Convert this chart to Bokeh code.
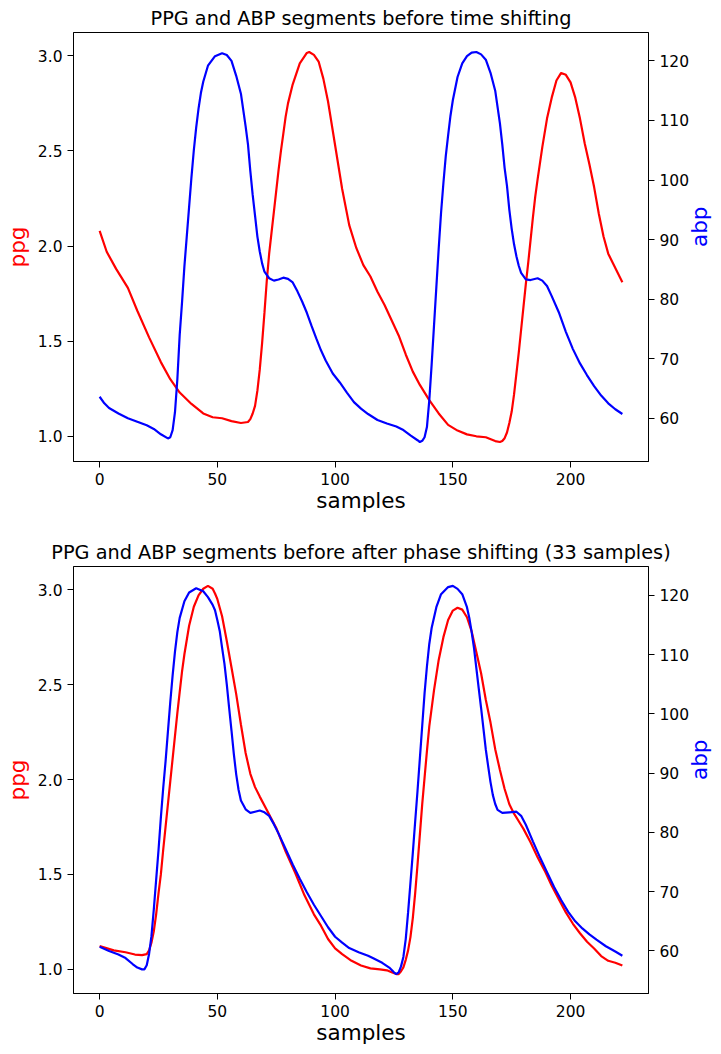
import math
from bokeh.plotting import figure
from bokeh.models import Range1d, LinearAxis, SingleIntervalTicker, NumeralTickFormatter
from bokeh.layouts import column
from bokeh.embed import file_html
from bokeh.resources import INLINE

# ---------------- data ----------------
titles = ["PPG and ABP segments before time shifting",
          "PPG and ABP segments before after phase shifting (33 samples)"]

top_ppg_s = [0, 3, 7, 12, 16, 21, 26, 30, 34, 39, 44, 48, 52, 56, 60, 63, 64, 65, 66, 67, 68, 69, 70,
             71, 72, 73, 74, 75, 76, 77, 78, 79, 80, 82, 85, 88, 89, 91, 93, 95, 97, 100, 103, 106,
             109, 112, 115, 118, 121, 124, 127, 130, 133, 136, 140, 144, 148, 152, 156, 160, 164,
             168, 170, 171, 172, 173, 174, 175, 176, 177, 178, 179, 180, 181, 182, 183, 184, 185,
             186, 188, 190, 192, 194, 196, 198, 200, 202, 204, 206, 208, 210, 212, 214, 216, 218,
             220, 222]
top_ppg = [2.08, 1.97, 1.88, 1.78, 1.66, 1.52, 1.39, 1.30, 1.23, 1.17, 1.12, 1.10, 1.095, 1.08, 1.07,
           1.075, 1.09, 1.12, 1.16, 1.24, 1.35, 1.49, 1.65, 1.82, 1.96, 2.07, 2.18, 2.29, 2.40, 2.50,
           2.59, 2.68, 2.75, 2.85, 2.96, 3.015, 3.02, 3.005, 2.97, 2.88, 2.76, 2.53, 2.30, 2.11,
           1.99, 1.90, 1.84, 1.76, 1.69, 1.61, 1.53, 1.43, 1.34, 1.27, 1.19, 1.12, 1.06, 1.03, 1.01,
           1.00, 0.995, 0.975, 0.97, 0.975, 0.99, 1.02, 1.07, 1.13, 1.22, 1.33, 1.44, 1.56, 1.68,
           1.80, 1.91, 2.03, 2.15, 2.26, 2.35, 2.52, 2.67, 2.78, 2.87, 2.91, 2.90, 2.86, 2.78, 2.67,
           2.54, 2.43, 2.31, 2.17, 2.05, 1.96, 1.91, 1.86, 1.81]

top_abp_s = [0, 2, 4, 8, 12, 16, 20, 23, 26, 29, 30, 31, 32, 33, 34, 35, 36, 37, 38, 39, 40, 41, 42,
             43, 44, 46, 49, 52, 54, 56, 58, 60, 62, 63, 64, 65, 66, 67, 68, 69, 70, 72, 74, 76, 78,
             80, 82, 84, 86, 88, 90, 92, 94, 96, 99, 102, 105, 108, 111, 114, 118, 122, 126, 129,
             132, 135, 136, 137, 138, 139, 140, 141, 142, 143, 144, 145, 146, 147, 148, 149, 150,
             152, 154, 156, 158, 160, 162, 164, 166, 168, 170, 171, 172, 173, 174, 175, 176, 177,
             178, 179, 181, 183, 186, 188, 190, 192, 195, 198, 201, 204, 207, 210, 213, 216, 219, 222]
top_abp = [63.6, 62.5, 61.7, 60.8, 60.0, 59.4, 58.8, 58.2, 57.3, 56.6, 56.8, 58.0, 61.0, 66.5, 74.0,
           79.5, 85.5, 90.5, 95.5, 100.5, 105.0, 108.8, 112.0, 114.6, 116.5, 119.2, 120.8, 121.3,
           121.0, 120.0, 117.5, 114.5, 109.0, 106.0, 101.5, 97.5, 94.0, 90.5, 88.0, 86.0, 84.6, 83.5,
           83.1, 83.3, 83.6, 83.4, 82.8, 81.3, 79.6, 77.7, 75.5, 73.4, 71.4, 69.7, 67.5, 66.0, 64.3,
           62.7, 61.6, 60.7, 59.7, 59.1, 58.6, 58.0, 57.1, 56.3, 56.0, 56.2, 56.8, 58.5, 63.0, 69.0,
           75.5, 82.0, 88.5, 94.5, 99.5, 104.0, 107.5, 110.8, 113.4, 117.3, 119.6, 120.8, 121.4,
           121.5, 121.1, 120.2, 118.0, 115.0, 109.5, 106.0, 102.0, 99.0, 95.0, 91.8, 89.2, 87.2,
           85.6, 84.4, 83.3, 83.2, 83.5, 83.1, 82.2, 80.5, 77.8, 74.5, 71.6, 69.2, 67.2, 65.4, 63.8,
           62.5, 61.5, 60.7]

bot_ppg_s = [0, 6, 11, 15, 18, 20, 21, 22, 23, 24, 25, 26, 27, 28, 29, 30, 31, 32, 33, 34, 35, 36,
             38, 40, 42, 44, 46, 48, 49, 50, 52, 54, 56, 58, 60, 62, 64, 66, 68, 71, 75, 79, 83, 87,
             91, 94, 97, 100, 103, 107, 111, 115, 119, 122, 124, 126, 127, 128, 129, 130, 131, 132,
             133, 134, 135, 136, 137, 138, 139, 140, 142, 144, 146, 148, 150, 152, 154, 156, 158,
             160, 162, 164, 166, 168, 170, 172, 174, 176, 178, 180, 183, 186, 189, 192, 195, 198,
             201, 204, 207, 210, 213, 216, 219, 222]
bot_ppg = [1.123, 1.10, 1.09, 1.078, 1.075, 1.08, 1.10, 1.14, 1.20, 1.29, 1.40, 1.50, 1.63, 1.75,
           1.87, 1.99, 2.11, 2.23, 2.35, 2.46, 2.57, 2.66, 2.81, 2.91, 2.97, 3.005, 3.02, 3.005, 2.98,
           2.95, 2.86, 2.73, 2.59, 2.45, 2.29, 2.14, 2.03, 1.96, 1.91, 1.84, 1.745, 1.62, 1.51, 1.39,
           1.29, 1.23, 1.16, 1.11, 1.08, 1.045, 1.02, 1.005, 1.00, 0.995, 0.985, 0.975, 0.975, 0.99,
           1.01, 1.05, 1.10, 1.17, 1.27, 1.40, 1.55, 1.71, 1.87, 2.01, 2.15, 2.28, 2.47, 2.63, 2.75,
           2.84, 2.89, 2.905, 2.895, 2.855, 2.78, 2.67, 2.56, 2.42, 2.30, 2.16, 2.05, 1.95, 1.87,
           1.82, 1.78, 1.74, 1.67, 1.59, 1.52, 1.44, 1.37, 1.30, 1.24, 1.19, 1.145, 1.11, 1.07,
           1.045, 1.035, 1.02]

bot_abp_s = [0, 4, 8, 11, 14, 16, 18, 19, 20, 21, 22, 23, 24, 25, 26, 27, 28, 29, 30, 31, 32, 33,
             34, 36, 38, 41, 44, 46, 48, 49, 50, 51, 52, 53, 54, 55, 56, 57, 58, 59, 60, 62, 64, 66,
             68, 70, 72, 74, 76, 79, 82, 85, 88, 91, 94, 97, 100, 103, 106, 110, 114, 116, 120, 123,
             125, 126, 127, 128, 129, 130, 131, 132, 133, 134, 135, 136, 137, 138, 139, 140, 141,
             143, 145, 148, 150, 152, 154, 156, 157, 158, 159, 160, 161, 162, 163, 164, 165, 166,
             167, 168, 169, 171, 174, 177, 179, 181, 184, 187, 190, 193, 196, 199, 202, 205, 208,
             211, 215, 219, 222]
bot_abp = [60.7, 60.0, 59.4, 58.8, 57.8, 57.2, 56.9, 56.9, 57.6, 59.5, 62.5, 67.0, 72.0, 77.0, 82.5,
           87.5, 92.0, 97.0, 102.0, 106.5, 110.5, 113.8, 116.2, 119.0, 120.5, 121.2, 120.7, 119.7,
           118.4, 117.5, 115.8, 114.0, 111.2, 108.5, 105.0, 101.0, 97.2, 93.2, 89.8, 87.2, 85.4,
           83.9, 83.3, 83.5, 83.7, 83.4, 82.8, 81.4, 79.8, 77.2, 74.6, 72.2, 69.9, 67.8, 65.9, 64.0,
           62.4, 61.4, 60.5, 59.8, 59.2, 58.8, 58.0, 57.2, 56.4, 56.1, 56.4, 57.4, 59.0, 62.0, 66.5,
           71.5, 76.5, 81.8, 87.0, 92.5, 98.0, 103.5, 108.0, 111.8, 114.5, 118.0, 120.2, 121.4,
           121.6, 121.1, 120.2, 118.0, 116.2, 113.8, 111.1, 107.7, 104.3, 101.0, 97.5, 94.0, 91.2,
           88.5, 86.3, 84.8, 83.8, 83.3, 83.4, 83.5, 82.8, 81.3, 78.5, 75.8, 73.3, 70.8, 68.6, 66.6,
           65.0, 63.8, 62.8, 61.9, 60.8, 59.9, 59.2]

x_tick_step = 50
ppg_tick_step = 0.5
abp_tick_step = 10

FONT = "DejaVu Sans"


def padded(vals):
    lo, hi = min(vals), max(vals)
    d = (hi - lo) * 0.05
    return lo - d, hi + d


def panel(title, ps, pv, as_, av, frame_h, b_top, b_bot, t_standoff):
    xr = padded(ps + as_)
    yr = padded(pv)
    ar = padded(av)
    p = figure(frame_width=575, frame_height=frame_h, output_backend="svg",
               toolbar_location=None, x_range=Range1d(*xr), y_range=Range1d(*yr),
               min_border_left=73, min_border_right=72, min_border_top=b_top,
               min_border_bottom=b_bot, title=title)
    p.extra_y_ranges = {"abp": Range1d(*ar)}
    right = LinearAxis(y_range_name="abp", axis_label="abp")
    p.add_layout(right, "right")

    p.line(ps, pv, color="red", line_width=2.2)
    p.line(as_, av, color="blue", line_width=2.2, y_range_name="abp")

    p.xaxis.ticker = SingleIntervalTicker(interval=x_tick_step, num_minor_ticks=0)
    p.xaxis.axis_label = "samples"
    p.yaxis[0].ticker = SingleIntervalTicker(interval=ppg_tick_step, num_minor_ticks=0)
    p.yaxis[0].formatter = NumeralTickFormatter(format="0.0")
    p.yaxis[0].axis_label = "ppg"
    p.yaxis[0].axis_label_text_color = "red"
    right.ticker = SingleIntervalTicker(interval=abp_tick_step, num_minor_ticks=0)
    right.axis_label_text_color = "blue"
    right.axis_label_orientation = math.pi / 2

    for ax in p.axis:
        ax.major_tick_out = 6
        ax.major_tick_in = 0
        ax.minor_tick_line_color = None
        ax.axis_line_color = "black"
        ax.major_tick_line_color = "black"
        ax.major_label_text_font = FONT
        ax.major_label_text_font_size = "15.5px"
        ax.major_label_text_color = "black"
        ax.major_label_standoff = 5
        ax.axis_label_text_font = FONT
        ax.axis_label_text_font_size = "21.5px"
        ax.axis_label_text_font_style = "normal"
    p.xaxis.axis_label_standoff = 0
    p.xaxis.axis_label_text_color = "black"
    p.yaxis[0].axis_label_standoff = 5
    right.axis_label_standoff = 7

    p.xgrid.grid_line_color = None
    p.ygrid.grid_line_color = None
    p.outline_line_color = "black"
    p.outline_line_alpha = 1
    p.outline_line_width = 1
    p.background_fill_color = "white"
    p.border_fill_color = "white"

    p.title.text_font = FONT
    p.title.text_font_size = "19.3px"
    p.title.text_font_style = "normal"
    p.title.text_color = "black"
    p.title.align = "center"
    p.title.standoff = t_standoff
    return p


p1 = panel(titles[0], top_ppg_s, top_ppg, top_abp_s, top_abp, 429, 32, 75, 5)
p2 = panel(titles[1], bot_ppg_s, bot_ppg, bot_abp_s, bot_abp, 427, 30, 58, 5)

layout = column(p1, p2, spacing=0)
open("out.html", "w").write(file_html(layout, INLINE))
